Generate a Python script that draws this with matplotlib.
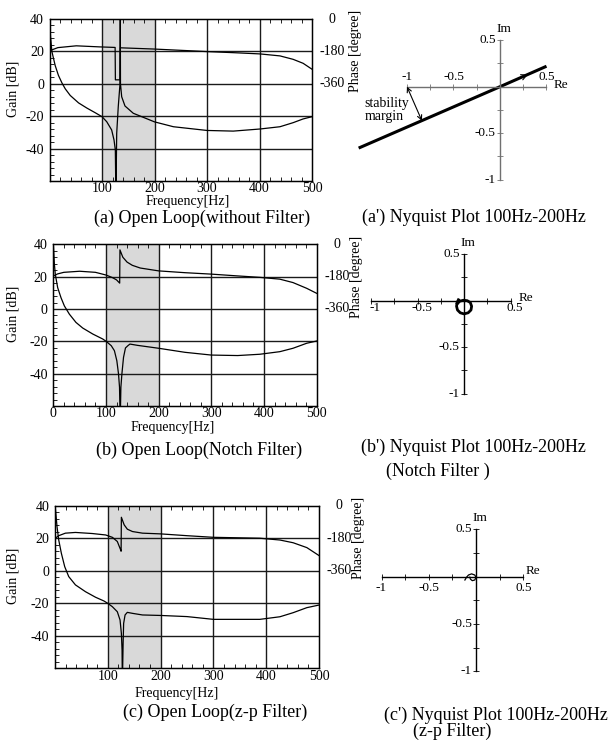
import matplotlib
matplotlib.use('Agg')
import matplotlib.pyplot as plt
import matplotlib.transforms as mtransforms
from matplotlib.ticker import MultipleLocator

plt.rcParams['font.family'] = ['Liberation Serif', 'DejaVu Serif']
plt.rcParams['axes.unicode_minus'] = False

W, H = 610, 745

# ---- Bode data (frequency Hz, gain dB, phase degree) ----
freq_a = [0.3, 2, 4.5, 10.8, 17, 23.6, 30, 39.5, 55.4, 71.3, 87.3, 100, 109, 118.4,
          122.9, 125.4, 126.5, 128, 131, 134.3, 134.8, 135.2, 137.5, 143.8, 159.6,
          178.7, 200, 236, 300, 350, 401, 439, 464, 483, 500]
gain_a = [40, 29, 20, 11.3, 5.2, 0.6, -3.1, -7.2, -11.8, -15, -17.9, -20.3, -23.4, -28.5,
          -34.7, -40.9, -70, -30.6, -14, 0, 50, 0, -8, -13.7, -18.2,
          -20.7, -23.5, -26.5, -28.8, -29.2, -27.9, -26.5, -24, -21.7, -20.3]
pfreq_a = [0, 5, 16, 51, 96, 125, 125.5, 134.5, 135, 200, 250, 300, 350, 401, 439, 464, 483, 500]
phase_a = [-180, -171, -159, -149, -155, -158, -338, -338, -160, -167, -174, -181, -187,
           -194, -205, -224, -246, -279]

freq_b = [0.3, 2, 3.8, 8.3, 14.6, 21, 30.5, 43, 55.9, 75, 94, 100.3, 110, 116, 120.6,
          123.8, 125.7, 127, 128.3, 130.2, 133.3, 137, 141.6, 145.5, 160, 200, 250,
          300, 350, 392, 430, 455, 481, 500]
gain_b = [39, 28, 21.4, 13.2, 7, 1.9, -3.2, -8.3, -11.8, -15.5, -18.6, -20, -22.7, -25.8,
          -32, -40.2, -48.4, -70, -48.4, -40.2, -29.9, -24.1, -22.7, -21.7, -22.5, -24.3,
          -26.8, -28.5, -28.8, -28, -26.4, -24.3, -21.2, -19.8]
pfreq_b = [0, 8, 20, 50, 80, 100, 112, 120, 126, 126.5, 132, 140, 150, 165, 200, 250,
           300, 350, 392, 430, 455, 481, 500]
phase_b = [-177, -165, -156, -150, -156, -171, -185, -198, -216, -31, -72, -99, -117,
           -132, -148, -158, -166, -176, -184, -194, -213, -245, -273]

freq_c = [0.3, 3.8, 7, 12, 18.4, 26, 38.7, 57.8, 76.8, 92.7, 99.7, 108.6, 118, 123.2,
          125.7, 127, 127.6, 129, 130, 132.7, 137, 146.7, 165.7, 200, 250, 300, 350,
          388, 426, 451, 477, 500]
gain_c = [40, 27.2, 19, 10.8, 2.5, -3.6, -8.7, -12.9, -16.3, -18.6, -20, -22.1, -25.2,
          -30.3, -38.5, -48.8, -70, -44.7, -32.4, -27.2, -25.6, -26.2, -27.2, -27.5,
          -28.2, -29.9, -29.9, -29.9, -28.3, -25.8, -22.7, -21.1]
pfreq_c = [0.6, 7, 19.7, 38.7, 70.5, 96, 108.6, 118, 124.4, 125.2, 125.7, 131, 137, 146.7,
           165.7, 200, 250, 300, 388, 426, 451, 477, 500]
phase_c = [-180, -166, -152, -148, -154, -162, -175, -198, -245, -252, -64, -106, -130,
           -143, -152, -156, -166, -175, -180, -190, -205, -232, -276]

gain_ticks = [40, 20, 0, -20, -40]
gain_grid = [20, 0, -20, -40]
freq_grid = [100, 200, 300, 400]
phase_ticks = [0, -180, -360]
band = (100, 200)

# ---- Nyquist data (Re, Im) ----
nyq_a_re = [-1.52, 0.0, 0.50]
nyq_a_im = [-0.66, 0.0, 0.22]
margin_from = (-1.0, 0.0)
margin_to = (-0.84, -0.366)
nyq_b_re = [-0.06, -0.075, -0.08, -0.07, -0.04, 0.0, 0.045, 0.075, 0.082, 0.068, 0.035,
            -0.005, -0.045, -0.07]
nyq_b_im = [0.01, -0.02, -0.06, -0.10, -0.13, -0.142, -0.13, -0.10, -0.06, -0.02, 0.0,
            0.005, -0.005, -0.03]
nyq_c_re = [-0.118, -0.1, -0.08, -0.047, -0.014, 0.0, -0.014, -0.04, -0.06, -0.066]
nyq_c_im = [-0.035, -0.005, 0.018, 0.03, 0.018, -0.007, -0.035, -0.042, -0.025, -0.005]
nyq_ticks = [-1, -0.75, -0.5, -0.25, 0.25, 0.5]
nyq_labels = [-1, -0.5, 0.5]


def rect_px(left, top, right, bottom):
    return [left / W, 1 - bottom / H, (right - left) / W, (bottom - top) / H]


def lab(v):
    return ('%g' % v)


fig = plt.figure(figsize=(W / 100, H / 100), dpi=100)


def bode(rect, f, g, pf, p, xticks, ylab_x, plab_x):
    ax = fig.add_axes(rect)
    ax.axvspan(band[0], band[1], color='#d9d9d9', lw=0, zorder=0)
    for v in freq_grid:
        ax.axvline(v, color='#1a1a1a', lw=1.0, zorder=1)
    for h in gain_grid:
        ax.axhline(h, color='#1a1a1a', lw=1.0, zorder=1)
    ax.plot(f, g, color='k', lw=0.9, zorder=3)
    ax.set_xlim(0, 500)
    ax.set_ylim(-60, 40)
    ax.set_xticks(xticks, labels=[lab(v) for v in xticks])
    ax.set_yticks(gain_ticks, labels=[lab(v) for v in gain_ticks])
    ax.xaxis.set_minor_locator(MultipleLocator(20))
    ax.yaxis.set_minor_locator(MultipleLocator(4))
    ax.tick_params(which='both', direction='in', top=True, right=True, labelsize=10,
                   width=0.6)
    ax.tick_params(which='major', length=0, pad=4)
    ax.tick_params(which='minor', length=3)
    ax.tick_params(axis='x', pad=1)
    for s in ax.spines.values():
        s.set_linewidth(1.0)
    tr = mtransforms.blended_transform_factory(ax.transAxes, ax.transData)
    ax.text(ylab_x, -3, 'Gain [dB]', transform=tr, rotation=90, ha='center',
            va='center', fontsize=10)

    ax2 = ax.twinx()
    ax2.set_ylim(-900, 0)
    ax2.plot(pf, p, color='k', lw=0.9)
    ax2.set_yticks([])
    tr2 = mtransforms.blended_transform_factory(ax2.transAxes, ax2.transData)
    for v in phase_ticks:
        ax2.text(1.077, v, lab(v), transform=tr2, ha='center', va='center', fontsize=10)
    ax2.text(plab_x, -180, 'Phase [degree]', transform=tr2, rotation=90, ha='center',
             va='center', fontsize=10)
    return ax


def nyquist(rect, xlim, ylim, color, re_dx, re_dy, re_va, re_pos):
    ax = fig.add_axes(rect)
    ax.patch.set_visible(False)
    ax.set_xlim(xlim)
    ax.set_ylim(ylim)
    for s in ['top', 'right']:
        ax.spines[s].set_visible(False)
    for s in ['left', 'bottom']:
        ax.spines[s].set_position(('data', 0))
        ax.spines[s].set_bounds(-1, 0.5)
        ax.spines[s].set_color(color)
        ax.spines[s].set_linewidth(1.0)
    ax.set_xticks([v for v in nyq_ticks if v != 0])
    ax.set_yticks([v for v in nyq_ticks if v != 0])
    ax.tick_params(direction='inout', length=4, width=0.6, color=color,
                   labelbottom=False, labelleft=False)
    for v in nyq_labels:
        ax.annotate(lab(v), (v, 0), xytext=(re_dx, re_dy), textcoords='offset points',
                    ha='center', va=re_va, fontsize=9.5)
        ax.annotate(lab(v), (0, v), xytext=(-3, 0), textcoords='offset points',
                    ha='right', va='center', fontsize=9.5)
    ax.annotate('Im', (0, 0.5), xytext=(3, 4), textcoords='offset points',
                ha='center', va='bottom', fontsize=9.5)
    ax.annotate('Re', (0.5, 0), xytext=re_pos, textcoords='offset points',
                ha='left', va='center', fontsize=9.5)
    return ax


# ---- (a) ----
bode(rect_px(49.5, 19, 312, 181), freq_a, gain_a, pfreq_a, phase_a,
     [100, 200, 300, 400, 500], -0.138, 1.164)
axn = nyquist(rect_px(351.2, 30.9, 351.2 + 2.3 * 93, 189), (-1.6, 0.7), (-1.1, 0.6),
              '#707070', 0, 3, 'bottom', (5, 1))
axn.plot(nyq_a_re, nyq_a_im, color='k', lw=2.2, solid_capstyle='butt')
axn.annotate('', xy=(0.30, 0.131), xytext=(0.15, 0.065),
             arrowprops=dict(arrowstyle='->', lw=0.8, color='k', shrinkA=0, shrinkB=0,
                             mutation_scale=10))
axn.annotate('', xy=margin_to, xytext=margin_from,
             arrowprops=dict(arrowstyle='<->', lw=0.8, color='k', shrinkA=0, shrinkB=0,
                             mutation_scale=8))
axn.text(-1.46, -0.255, 'stability\nmargin', ha='left', va='center', fontsize=10,
         linespacing=1.0)

# ---- (b) ----
bode(rect_px(53.3, 244.3, 316.7, 406), freq_b, gain_b, pfreq_b, phase_b,
     [0, 100, 200, 300, 400, 500], -0.152, 1.150)
axn = nyquist(rect_px(361.7, 244.9, 361.7 + 1.8 * 93, 403), (-1.1, 0.7), (-1.1, 0.6),
              'k', 3, -1, 'top', (6, 2))
axn.plot(nyq_b_re, nyq_b_im, color='k', lw=2.0)

# ---- (c) ----
bode(rect_px(55, 505.7, 319, 668.3), freq_c, gain_c, pfreq_c, phase_c,
     [100, 200, 300, 400, 500], -0.158, 1.148)
axn = nyquist(rect_px(372.1, 520, 372.1 + 1.8 * 94.5, 680.65), (-1.1, 0.7), (-1.1, 0.6),
              'k', 0, -4, 'top', (2, 4))
axn.plot(nyq_c_re, nyq_c_im, color='k', lw=0.9)

# ---- labels and captions (pixel centres) ----
texts = [
    ('Frequency[Hz]', 188, 202, 10),
    ('(a) Open Loop(without Filter)', 202, 218, 13),
    ("(a') Nyquist Plot 100Hz-200Hz", 473.5, 217, 13),
    ('Frequency[Hz]', 173, 428, 10),
    ('(b) Open Loop(Notch Filter)', 199, 450, 13),
    ("(b') Nyquist Plot 100Hz-200Hz", 473.5, 447, 13),
    ('(Notch Filter )', 438, 471.5, 13),
    ('Frequency[Hz]', 176.5, 693, 10),
    ('(c) Open Loop(z-p Filter)', 215, 712, 13),
    ("(c') Nyquist Plot 100Hz-200Hz", 496, 715, 13),
    ('(z-p Filter)', 452, 731, 13),
]
for s, x, y, fs in texts:
    fig.text(x / W, 1 - y / H, s, ha='center', va='center', fontsize=fs)

fig.savefig('out.png', dpi=100)
